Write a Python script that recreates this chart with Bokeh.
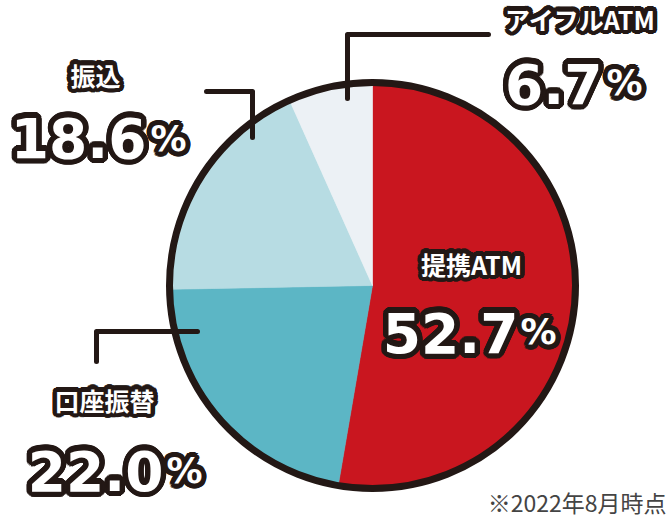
import numpy as np
from bokeh.plotting import figure
from bokeh.models import ColumnDataSource, Range1d
from bokeh.core.properties import value
from bokeh.embed import file_html
from bokeh.resources import INLINE

# ---------------- data ----------------
categories = ["提携ATM", "口座振替", "振込", "アイフルATM"]
shares = [52.7, 22.0, 18.6, 6.7]
footnote = "※2022年8月時点"

# ---------------- style / layout ----------------
slice_colors = ["#c9161f", "#5cb6c5", "#b7dce3", "#ecf1f5"]
DARK = "#231815"
JP_FONT = "Noto Sans CJK JP"
NUM_FONT = "DejaVu Sans"

W, H = 670, 515


def Y(py):
    # page pixel y (top-down) -> data y (bottom-up)
    return H - py


CX, CY, R = 372, 285, 203

# label layout (page pixels): name centre, number right edge + baseline, % left edge + baseline
label_layout = {
    "提携ATM": dict(name=(471, 263), num=(518, 332), pct=(520, 331)),
    "口座振替": dict(name=(104, 399), num=(163, 470), pct=(166, 470)),
    "振込": dict(name=(95, 74), num=(146, 137), pct=(150, 138)),
    "アイフルATM": dict(name=(580, 18), num=(602, 83), pct=(606, 82)),
}
leader_paths = {
    "アイフルATM": [(347, 98), (347, 34), (488, 34)],
    "振込": [(206, 91), (252, 91), (252, 137)],
    "口座振替": [(197, 331), (96, 331), (96, 361)],
}

p = figure(width=W, height=H, x_range=Range1d(0, W), y_range=Range1d(0, H),
           output_backend="svg", toolbar_location=None, min_border=0)
p.axis.visible = False
p.grid.visible = False
p.outline_line_color = None
p.background_fill_color = "white"
p.border_fill_color = "white"

# ---------------- pie ----------------
cum = np.concatenate([[0.0], np.cumsum(shares)]) / 100.0
start = np.pi / 2 - 2 * np.pi * cum[:-1]
end = np.pi / 2 - 2 * np.pi * cum[1:]
pie_src = ColumnDataSource(dict(start=start, end=end, color=slice_colors, cat=categories))
p.wedge(x=CX, y=Y(CY), radius=R, start_angle="start", end_angle="end",
        direction="clock", fill_color="color", line_color="color", line_width=0.6,
        source=pie_src)
p.circle(x=[CX], y=[Y(CY)], radius=R, fill_color=None, line_color=DARK, line_width=7)

# ---------------- leader lines ----------------
for cat, path in leader_paths.items():
    p.line([pt[0] for pt in path], [Y(pt[1]) for pt in path], line_color=DARK,
           line_width=5, line_cap="round", line_join="round")


# ---------------- outlined texts ----------------
def outlined(x, y, txt, font, size, align, baseline, r=5.0):
    offs = []
    for a in np.linspace(0, 2 * np.pi, 24, endpoint=False):
        offs.append((r * np.cos(a), r * np.sin(a)))
    for a in np.linspace(0, 2 * np.pi, 8, endpoint=False):
        offs.append((r * 0.55 * np.cos(a), r * 0.55 * np.sin(a)))
    n = len(offs)
    src = ColumnDataSource(dict(x=[x] * n, y=[y] * n, text=[txt] * n,
                                xo=[o[0] for o in offs], yo=[o[1] for o in offs]))
    common = dict(text_font=value(font), text_font_size=f"{size}px", text_font_style="bold",
                  text_align=align, text_baseline=baseline)
    p.text(x="x", y="y", text="text", x_offset="xo", y_offset="yo", source=src,
           text_color=DARK, **common)
    p.text(x=[x], y=[y], text=[txt], text_color="white", **common)


for cat, v in zip(categories, shares):
    lay = label_layout[cat]
    nx, ny = lay["name"]
    outlined(nx, Y(ny), cat, JP_FONT, 25, "center", "middle", r=4.5)
    mx, my = lay["num"]
    outlined(mx, Y(my), f"{v:.1f}", NUM_FONT, 55, "right", "alphabetic", r=5.5)
    qx, qy = lay["pct"]
    outlined(qx, Y(qy), "%", NUM_FONT, 36, "left", "alphabetic", r=5)

# footnote
p.text(x=[666], y=[Y(501)], text=[footnote], text_font=value(JP_FONT), text_font_size="23px",
       text_align="right", text_baseline="middle", text_color="#444444")

open("out.html", "w").write(file_html(p, INLINE))
